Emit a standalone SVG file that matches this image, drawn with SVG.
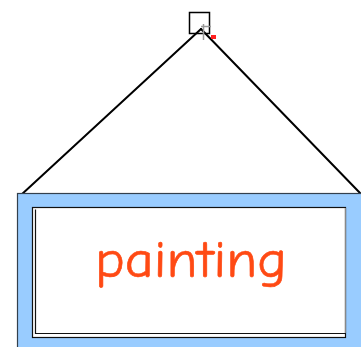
<svg xmlns="http://www.w3.org/2000/svg" width="361" height="347" viewBox="0 0 361 347">
<style>
.frame{fill:#99ccff;stroke:#33404d;stroke-width:1.2}
.panel{fill:#ffffff;stroke:#111;stroke-width:1.2}
.wire{stroke:#000;stroke-width:2;fill:none;stroke-linecap:round}
.label{font-family:"Comic Neue","Noto Sans","DejaVu Sans",sans-serif;font-size:53px;fill:#ff4a14;stroke:#ff4a14;stroke-width:0.6}
</style>
<rect width="361" height="347" fill="#ffffff"/>
<g id="connectors">
<line class="wire" x1="201" y1="29" x2="21" y2="195"/>
<line class="wire" x1="201" y1="29" x2="360" y2="193"/>
</g>
<g id="hook">
<rect x="189.5" y="12.5" width="20" height="21" fill="none" stroke="#000" stroke-width="1.5"/>
<line x1="203.5" y1="24" x2="203.5" y2="40" stroke="#999" stroke-width="1.5"/>
<line x1="201" y1="26.5" x2="211" y2="26.5" stroke="#999" stroke-width="1.5"/>
<rect x="211" y="35" width="5" height="4" fill="#ff2020"/>
</g>
<g id="sign">
<rect class="frame" x="17.5" y="193.5" width="360" height="170"/>
<rect class="panel" x="32.5" y="207.5" width="313" height="130"/>
<path d="M35.5,209.5 V333.5 H345.5" fill="none" stroke="#111" stroke-width="1.2"/>
<line x1="345.5" y1="208" x2="345.5" y2="333" stroke="#888" stroke-width="1.2"/>
<text class="label" x="191" y="277" text-anchor="middle" textLength="192" lengthAdjust="spacingAndGlyphs">painting</text>
</g>
</svg>
